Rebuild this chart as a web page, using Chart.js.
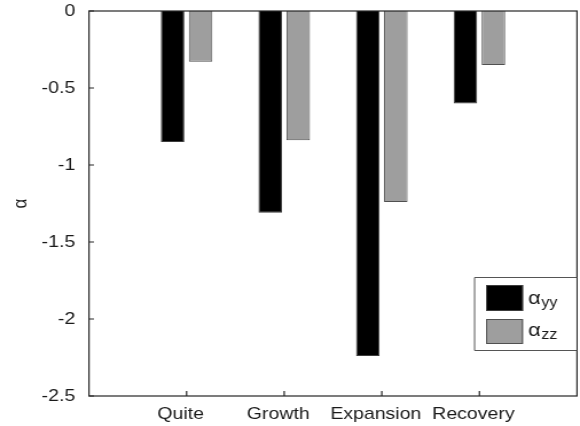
<!DOCTYPE html>
<html>
<head>
<meta charset="utf-8">
<script src="https://cdn.jsdelivr.net/npm/chart.js@4/dist/chart.umd.min.js"></script>
<style>
  html, body { margin: 0; padding: 0; background: #fff; }
  canvas { display: block; }
</style>
</head>
<body>
<canvas id="chart" width="506" height="426" style="width:580px;height:426px"></canvas>
<script>
// Growth phases on the x axis, alpha coefficients per phase
const categories = ['Quite', 'Growth', 'Expansion', 'Recovery'];
const alphaYY = [-0.85, -1.31, -2.24, -0.60];
const alphaZZ = [-0.33, -0.84, -1.24, -0.35];
const seriesNames = ['α_yy', 'α_zz'];
const yTicks = [0, -0.5, -1, -1.5, -2, -2.5];

// the canvas is drawn 506 units wide and shown 580 px wide (wide lettering)
const X_STRETCH = 580 / 506;
const FONT = "'Liberation Sans', Arial, Helvetica, sans-serif";
const INK = '#1a1a1a';

// one empty slot on each side so the groups sit at 1..4 of a 0..5 axis
const labels = ['', ...categories, ''];
const pad = arr => [null, ...arr, null];

// box frame plus inward tick marks
const framePlugin = {
  id: 'frame',
  afterDatasetsDraw(chart) {
    const { ctx, chartArea: a, scales } = chart;
    ctx.save();
    ctx.strokeStyle = '#262626';
    ctx.lineWidth = 1.2;
    ctx.strokeRect(a.left, a.top, a.right - a.left, a.bottom - a.top);
    ctx.beginPath();
    const tx = 5 / X_STRETCH, ty = 5;
    scales.y.ticks.forEach(t => {
      const py = scales.y.getPixelForValue(t.value);
      ctx.moveTo(a.left, py);
      ctx.lineTo(a.left + tx, py);
    });
    chart.data.labels.forEach((lab, i) => {
      if (!lab) return;
      const px = scales.x.getPixelForValue(i);
      ctx.moveTo(px, a.bottom);
      ctx.lineTo(px, a.bottom - ty);
    });
    ctx.stroke();
    ctx.restore();
  }
};

// legend with subscripted series names, lower right corner of the plot
const legendPlugin = {
  id: 'subLegend',
  afterDraw(chart) {
    const { ctx, chartArea: a } = chart;
    const boxL = a.right - 103 / X_STRETCH;
    const boxT = a.bottom - 119;
    const boxB = a.bottom - 45;
    ctx.save();
    ctx.fillStyle = '#fff';
    ctx.fillRect(boxL, boxT, a.right - 0.7 - boxL, boxB - boxT);
    ctx.strokeStyle = '#555';
    ctx.lineWidth = 1;
    ctx.beginPath();
    ctx.moveTo(a.right, boxT + 0.5);
    ctx.lineTo(boxL + 0.5, boxT + 0.5);
    ctx.lineTo(boxL + 0.5, boxB - 0.5);
    ctx.lineTo(a.right, boxB - 0.5);
    ctx.stroke();

    const rows = [
      { top: boxT + 8, h: 26, base: boxT + 26.5 },
      { top: boxT + 42, h: 25, base: boxT + 58.5 }
    ];
    const sx = boxL + 12 / X_STRETCH, sw = 37 / X_STRETCH;
    chart.data.datasets.forEach((ds, i) => {
      const r = rows[i];
      ctx.fillStyle = ds.backgroundColor;
      ctx.fillRect(sx, r.top, sw, r.h);
      ctx.strokeStyle = ds.borderColor;
      ctx.strokeRect(sx + 0.5, r.top + 0.5, sw - 1, r.h - 1);
      const [main, sub] = ds.label.split('_');
      const tx = sx + sw + 5 / X_STRETCH;
      ctx.fillStyle = INK;
      ctx.textBaseline = 'alphabetic';
      ctx.textAlign = 'left';
      ctx.font = `19px ${FONT}`;
      ctx.fillText(main, tx, r.base);
      const w = ctx.measureText(main).width;
      ctx.font = `14px ${FONT}`;
      ctx.fillText(sub, tx + w + 0.5, r.base + 3.5);
    });
    ctx.restore();
  }
};

new Chart(document.getElementById('chart'), {
  type: 'bar',
  data: {
    labels,
    datasets: [
      {
        label: seriesNames[0],
        data: pad(alphaYY),
        backgroundColor: '#000000',
        borderColor: '#3c3c3c',
        borderWidth: 1,
        categoryPercentage: 0.574,
        barPercentage: 0.84
      },
      {
        label: seriesNames[1],
        data: pad(alphaZZ),
        backgroundColor: '#9e9e9e',
        borderColor: '#505050',
        borderWidth: 1,
        categoryPercentage: 0.574,
        barPercentage: 0.84
      }
    ]
  },
  options: {
    responsive: false,
    devicePixelRatio: 1,
    animation: false,
    events: [],
    layout: { padding: { top: 11, right: 2.6, bottom: 0, left: 0 } },
    plugins: {
      legend: { display: false },
      tooltip: { enabled: false }
    },
    scales: {
      x: {
        type: 'category',
        offset: false,
        grid: { display: false, drawTicks: false },
        border: { display: false },
        ticks: {
          autoSkip: false,
          maxRotation: 0,
          minRotation: 0,
          padding: 8,
          labelOffset: -6 / X_STRETCH,
          color: INK,
          font: { family: FONT, size: 17 }
        },
        afterFit(scale) {
          scale.height = 30;
          scale.paddingLeft = 0;
          scale.paddingRight = 0;
        }
      },
      y: {
        min: yTicks[yTicks.length - 1],
        max: yTicks[0],
        afterBuildTicks(scale) {
          scale.ticks = yTicks.map(v => ({ value: v }));
        },
        grid: { display: false, drawTicks: false },
        border: { display: false },
        ticks: {
          padding: 12,
          color: INK,
          font: { family: FONT, size: 17 },
          callback: v => String(v)
        },
        title: {
          display: true,
          text: 'α',
          color: INK,
          font: { family: FONT, size: 17 },
          padding: { top: 8, bottom: 0 }
        },
        afterFit(scale) {
          scale.width = 89 / X_STRETCH;
          scale.paddingTop = 0;
          scale.paddingBottom = 0;
        }
      }
    }
  },
  plugins: [framePlugin, legendPlugin]
});
</script>
</body>
</html>
